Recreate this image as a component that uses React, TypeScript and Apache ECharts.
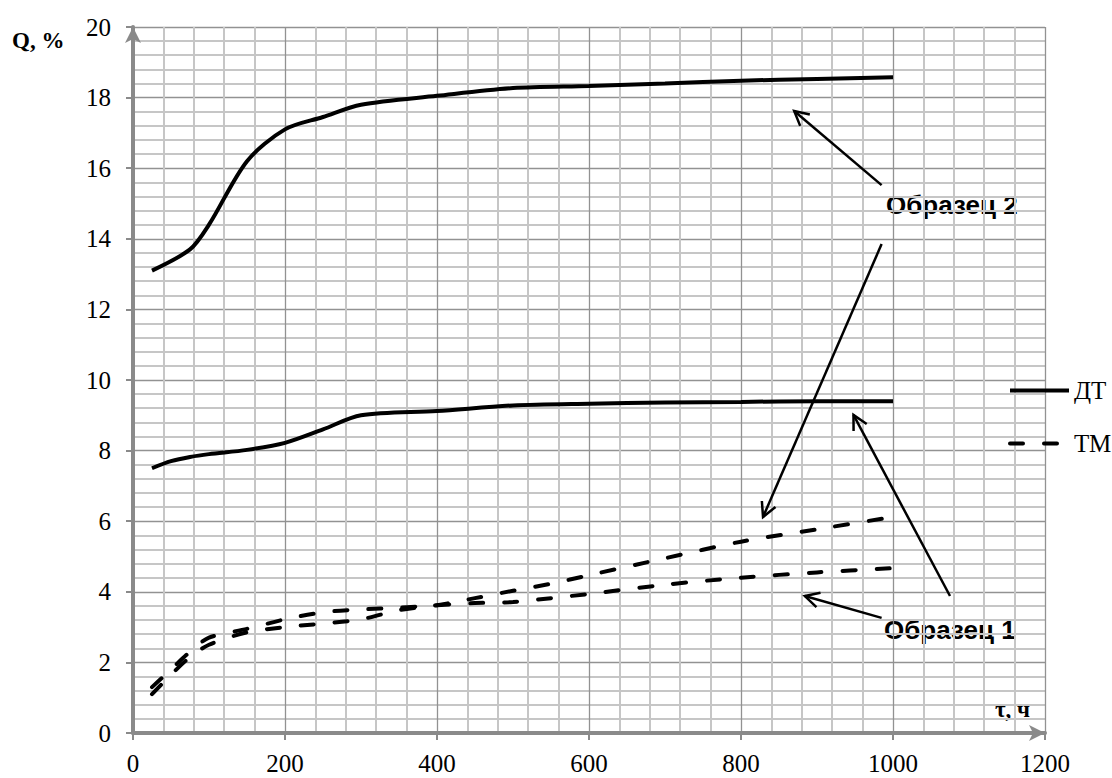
import React, { useEffect, useRef } from "react";
import * as echarts from "echarts";

// Образец 2, ДТ (upper solid)
const obr2DT_x = [25, 75, 100, 150, 200, 250, 300, 400, 500, 600, 700, 800, 900, 1000];
const obr2DT_y = [13.1, 13.7, 14.4, 16.2, 17.1, 17.45, 17.8, 18.05, 18.27, 18.33, 18.4, 18.48, 18.53, 18.58];

// Образец 1, ДТ (lower solid)
const obr1DT_x = [25, 50, 75, 100, 150, 200, 250, 300, 400, 500, 600, 700, 800, 900, 1000];
const obr1DT_y = [7.5, 7.7, 7.82, 7.9, 8.02, 8.22, 8.6, 9.0, 9.12, 9.28, 9.33, 9.36, 9.38, 9.4, 9.4];

// Образец 2, ТМ (dashed, ends higher)
const obr2TM_x = [25, 50, 75, 100, 150, 200, 250, 300, 350, 400, 450, 500, 550, 600, 700, 800, 900, 1000];
const obr2TM_y = [1.1, 1.65, 2.15, 2.5, 2.85, 3.0, 3.1, 3.22, 3.48, 3.62, 3.82, 4.03, 4.23, 4.47, 4.95, 5.42, 5.77, 6.12];

// Образец 1, ТМ (dashed, ends lower)
const obr1TM_x = [25, 50, 75, 100, 150, 200, 250, 300, 350, 400, 450, 500, 550, 600, 700, 800, 900, 1000];
const obr1TM_y = [1.3, 1.8, 2.3, 2.7, 2.95, 3.22, 3.42, 3.5, 3.55, 3.62, 3.68, 3.71, 3.82, 3.94, 4.2, 4.4, 4.55, 4.67];

const legendNames = ["ДТ", "ТМ"];

// annotation arrows (data coordinates): tail -> tip
const arrowTail = [
  [985, 15.52],
  [985, 13.85],
  [1075, 3.88],
  [985, 3.26],
];
const arrowTip = [
  [870, 17.62],
  [829, 6.12],
  [948, 9.01],
  [884, 3.88],
];

const xMax = 1200;
const xStep = 200;
const yMax = 20;
const yStep = 2;

const zip = (xs: number[], ys: number[]) => xs.map((x, i) => [x, ys[i]]);

const SERIF = "Liberation Serif";
const SANS = "Liberation Sans";

function txt(text: string, x: number, y: number, family: string, size: number, weight: string) {
  return {
    type: "text",
    x,
    y,
    style: {
      text,
      fontFamily: family,
      fontSize: size,
      fontWeight: weight,
      fill: "#000",
      textAlign: "left",
      textVerticalAlign: "middle",
      verticalAlign: "middle",
    },
  };
}

export default function App() {
  const ref = useRef<HTMLDivElement>(null);
  useEffect(() => {
    if (!ref.current) return;
    const chart = echarts.init(ref.current, undefined, { renderer: "svg" });
    const solid = { color: "#000", width: 4 };
    const dashed = { color: "#000", width: 4, type: [13, 21] as any, cap: "round" as any };
    const axisCommon = {
      axisLine: {
        show: true,
        lineStyle: { color: "#8a8a8a", width: 4 },
        symbol: ["none", "arrow"],
        symbolSize: [12, 16],
      },
      axisTick: { show: true, length: 7, lineStyle: { color: "#8a8a8a", width: 2 } },
      splitLine: { show: true, lineStyle: { color: "#929292", width: 1.3 } },
      minorTick: { show: false, splitNumber: 5 },
      minorSplitLine: { show: true, lineStyle: { color: "#c6c6c6", width: 2 } },
    };
    const fmt = (v: number) => String(v);
    chart.setOption({
      animation: false,
      backgroundColor: "#fff",
      grid: { left: 133, right: 67, top: 27, bottom: 45, containLabel: false },
      xAxis: {
        type: "value",
        min: 0,
        max: xMax,
        interval: xStep,
        ...axisCommon,
        axisLabel: { fontFamily: SERIF, fontSize: 25, color: "#000", margin: 18, formatter: fmt },
      },
      yAxis: {
        type: "value",
        min: 0,
        max: yMax,
        interval: yStep,
        ...axisCommon,
        axisLabel: { fontFamily: SERIF, fontSize: 25, color: "#000", margin: 22, formatter: fmt },
      },
      legend: {
        data: legendNames,
        orient: "vertical",
        left: 1008,
        top: 378,
        padding: 0,
        itemWidth: 59,
        itemHeight: 14,
        itemGap: 28,
        selectedMode: false,
        itemStyle: { opacity: 0 },
        lineStyle: { width: 4, color: "#000" },
        textStyle: { fontFamily: SERIF, fontSize: 25, color: "#000" },
      },
      series: [
        {
          name: "ДТ",
          type: "line",
          data: zip(obr2DT_x, obr2DT_y),
          smooth: 0.3,
          showSymbol: false,
          symbol: "none",
          lineStyle: solid,
          itemStyle: { color: "#000" },
          z: 5,
        },
        {
          name: "ДТ",
          type: "line",
          data: zip(obr1DT_x, obr1DT_y),
          smooth: 0.3,
          showSymbol: false,
          symbol: "none",
          lineStyle: solid,
          itemStyle: { color: "#000" },
          z: 5,
        },
        {
          name: "ТМ",
          type: "line",
          data: zip(obr2TM_x, obr2TM_y),
          smooth: 0.3,
          showSymbol: false,
          symbol: "none",
          lineStyle: dashed,
          itemStyle: { color: "#000" },
          z: 5,
        },
        {
          name: "ТМ",
          type: "line",
          data: zip(obr1TM_x, obr1TM_y),
          smooth: 0.3,
          showSymbol: false,
          symbol: "none",
          lineStyle: dashed,
          itemStyle: { color: "#000" },
          z: 5,
        },
        {
          name: "arrows",
          type: "custom",
          silent: true,
          z: 6,
          data: arrowTail.map((t, i) => [t[0], t[1], arrowTip[i][0], arrowTip[i][1]]),
          encode: { x: [0, 2], y: [1, 3] },
          renderItem: (_params: any, api: any) => {
            const p1 = api.coord([api.value(0), api.value(1)]);
            const p2 = api.coord([api.value(2), api.value(3)]);
            const ang = Math.atan2(p1[1] - p2[1], p1[0] - p2[0]);
            const L = 16;
            const a = Math.PI / 6.5;
            const h1 = [p2[0] + L * Math.cos(ang + a), p2[1] + L * Math.sin(ang + a)];
            const h2 = [p2[0] + L * Math.cos(ang - a), p2[1] + L * Math.sin(ang - a)];
            return {
              type: "group",
              children: [
                {
                  type: "line",
                  shape: { x1: p1[0], y1: p1[1], x2: p2[0], y2: p2[1] },
                  style: { stroke: "#000", lineWidth: 2.5 },
                },
                {
                  type: "polyline",
                  shape: { points: [h1, p2, h2] },
                  style: { stroke: "#000", lineWidth: 2.5, fill: null },
                },
              ],
            };
          },
        },
      ],
      graphic: [
        txt("Q, %", 12, 40, SERIF, 23, "bold"),
        txt("τ, ч", 995, 709, SERIF, 23, "bold"),
        txt("Образец 2", 886, 205, SANS, 26, "bold"),
        txt("Образец 1", 884, 630, SANS, 26, "bold"),
      ],
    });
    return () => chart.dispose();
  }, []);
  return (
    <div
      ref={ref}
      style={{ position: "absolute", left: 0, top: 0, width: 1112, height: 778, background: "#fff" }}
    />
  );
}
